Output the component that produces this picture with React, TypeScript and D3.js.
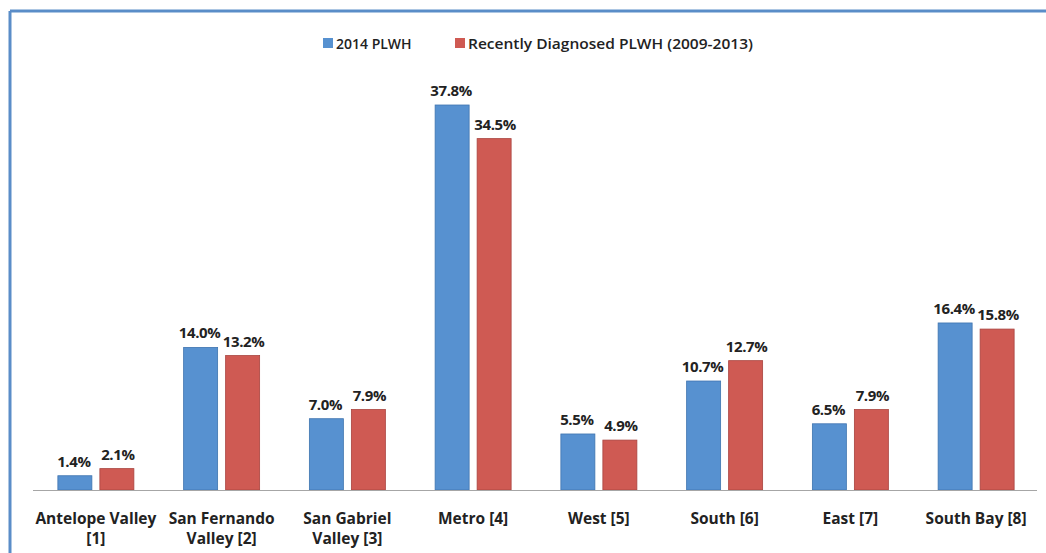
import React from "react";
import * as d3 from "d3";

const categories: string[][] = [
  ["Antelope Valley", "[1]"],
  ["San Fernando", "Valley [2]"],
  ["San Gabriel", "Valley [3]"],
  ["Metro [4]"],
  ["West [5]"],
  ["South [6]"],
  ["East [7]"],
  ["South Bay [8]"],
];
const plwh2014: number[] = [1.4, 14.0, 7.0, 37.8, 5.5, 10.7, 6.5, 16.4];
const recent: number[] = [2.1, 13.2, 7.9, 34.5, 4.9, 12.7, 7.9, 15.8];
const seriesNames: string[] = ["2014 PLWH", "Recently Diagnosed PLWH (2009-2013)"];

const W = 1046;
const H = 553;
const BLUE = "#5791d0";
const BLUE_STROKE = "#3f74b0";
const RED = "#cf5a53";
const RED_STROKE = "#a9443f";
const FONT = "'Open Sans', 'Liberation Sans', sans-serif";

export default function App() {
  const baseline = 490;
  const keys = categories.map((c) => c.join(" "));
  const x = d3.scaleBand<string>().domain(keys).range([33, 1039]).paddingInner(0).paddingOuter(0);
  const y = d3.scaleLinear().domain([0, 37.8]).range([baseline, 105]);
  const barW = 34;
  const gap = 8;
  const series = [
    { name: seriesNames[0], values: plwh2014, fill: BLUE, stroke: BLUE_STROKE },
    { name: seriesNames[1], values: recent, fill: RED, stroke: RED_STROKE },
  ];

  return (
    <div style={{ position: "absolute", left: 0, top: 0 }}>
      <svg width={W} height={H} style={{ display: "block", background: "#fff" }}>
        {/* frame */}
        <line x1={10} y1={11} x2={W} y2={11} stroke="#5a8dc8" strokeWidth={3} />
        <line x1={10} y1={11} x2={10} y2={H} stroke="#5a8dc8" strokeWidth={3} />

        {/* legend */}
        <g fontFamily={FONT} fontSize={14} fontWeight={600} fill="#222">
          <rect x={323} y={38} width={10} height={10} fill={BLUE} />
          <text x={336} y={49}>{seriesNames[0]}</text>
          <rect x={455} y={38} width={10} height={10} fill={RED} />
          <text x={468} y={49} textLength={285} lengthAdjust="spacingAndGlyphs">{seriesNames[1]}</text>
        </g>

        {/* bars */}
        {series.map((s, si) => (
          <g key={s.name}>
            {s.values.map((v, i) => {
              const cx = (x(keys[i]) as number) + x.bandwidth() / 2;
              const bx = si === 0 ? cx - gap / 2 - barW : cx + gap / 2;
              const top = y(v);
              return (
                <g key={i}>
                  <rect
                    x={bx}
                    y={top}
                    width={barW}
                    height={baseline - top}
                    fill={s.fill}
                    stroke={s.stroke}
                    strokeWidth={0.8}
                  />
                  <text
                    x={bx + barW / 2 + (si === 0 ? -1 : 1)}
                    y={top - 9}
                    textAnchor="middle"
                    fontFamily={FONT}
                    fontSize={15}
                    fontWeight={700}
                    letterSpacing={-0.4}
                    fill="#222"
                  >
                    {v.toFixed(1)}%
                  </text>
                </g>
              );
            })}
          </g>
        ))}

        {/* axis baseline */}
        <line x1={33} y1={baseline + 0.5} x2={1037} y2={baseline + 0.5} stroke="#a6a6a6" strokeWidth={1.2} />

        {/* category labels */}
        {categories.map((lines, i) => {
          const cx = (x(keys[i]) as number) + x.bandwidth() / 2;
          return (
            <text
              key={i}
              x={cx}
              textAnchor="middle"
              fontFamily={FONT}
              fontSize={15.5}
              fontWeight={700}
              fill="#222"
            >
              {lines.map((l, j) => (
                <tspan key={j} x={cx} y={524 + j * 20}>
                  {l}
                </tspan>
              ))}
            </text>
          );
        })}
      </svg>
    </div>
  );
}
